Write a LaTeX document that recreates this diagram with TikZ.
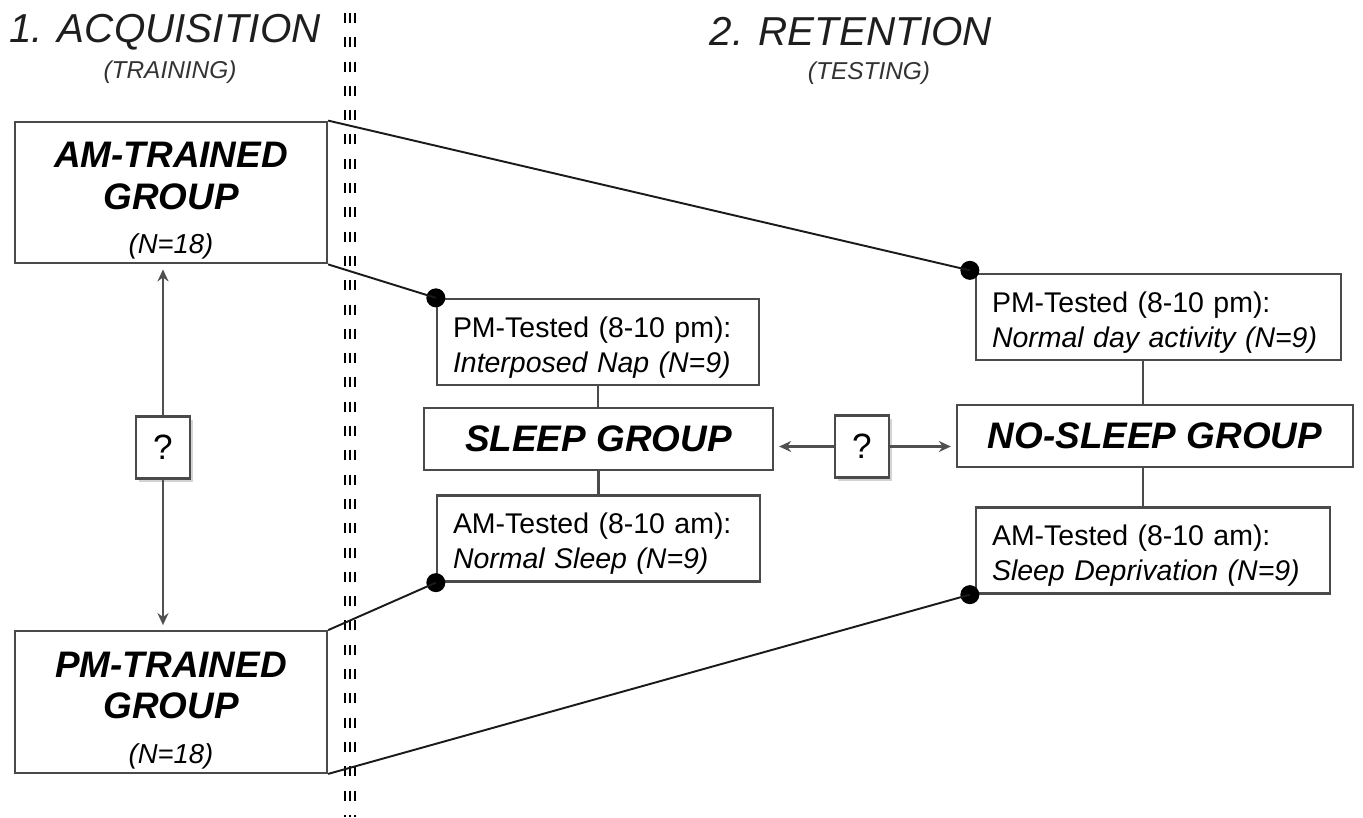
\documentclass[tikz,border=0pt]{standalone}
\usepackage{fontspec}
\setmainfont{Liberation Sans}
\usetikzlibrary{arrows.meta,positioning,shadows}

\definecolor{boxgray}{HTML}{4A4A4A}
\definecolor{arrgray}{HTML}{505050}
\definecolor{linkblack}{HTML}{1A1A1A}
\definecolor{titlegray}{HTML}{1E1E1E}
\definecolor{subgray}{HTML}{333333}

\begin{document}
\begin{tikzpicture}[
  >={Stealth[length=2.4mm,width=2.2mm]},
  title/.style={font=\fontsize{23}{27}\selectfont\itshape, text=titlegray},
  subtitle/.style={font=\fontsize{13.9}{16}\selectfont\itshape, text=subgray},
  trainbox/.style={draw=boxgray, line width=1.3pt, fill=white, align=center,
    minimum width=6.24cm, minimum height=2.83cm, inner sep=0pt,
    font=\fontsize{21}{23.8}\selectfont\bfseries\itshape},
  groupbox/.style={draw=boxgray, line width=1.3pt, fill=white, minimum height=1.24cm,
    font=\fontsize{21}{25}\selectfont\bfseries\itshape},
  testbox/.style={draw=boxgray, line width=1.3pt, fill=white, align=left,
    inner xsep=0.32cm, minimum height=1.72cm, font=\fontsize{16.2}{19.8}\selectfont},
  qbox/.style={draw=boxgray, line width=1.3pt, fill=white, minimum width=1.08cm,
    minimum height=1.24cm, inner sep=0pt, font=\fontsize{20}{24}\selectfont,
    drop shadow={shadow xshift=0.06cm, shadow yshift=-0.06cm, opacity=0.35}},
  dot/.style={circle, fill=black, inner sep=0pt, minimum size=0.38cm},
  link/.style={draw=linkblack, line width=1.1pt},
  stem/.style={draw=boxgray, line width=1.2pt},
  arr/.style={->, draw=arrgray, line width=1.4pt, shorten >=0.1cm},
  sep/.style={draw=black, line width=0.05cm, dash pattern=on 0.2cm off 0.286cm}
]
\useasboundingbox (0,0) rectangle (27.26,-16.34);

%--------------------------------------------------
% phase headings and separator
%--------------------------------------------------
\node[title] (acq) at (3.30,-0.64) {1. ACQUISITION};
\node[subtitle] (train) at (3.40,-1.44) {(TRAINING)};
\node[title] (ret) at (17.02,-0.64) {2. RETENTION};
\node[subtitle] (test) at (17.38,-1.46) {(TESTING)};

\foreach \x in {6.90,7.00,7.10}
  \draw[sep] (\x,-0.26) -- (\x,-16.34);

%--------------------------------------------------
% left: training groups
%--------------------------------------------------
\node[trainbox] (am) at (3.42,-3.85) {\rule{0pt}{24pt}AM-TRAINED\\GROUP\\[1.5pt]{\mdseries\fontsize{15.6}{18}\selectfont (N=18)}};
\node[trainbox] (pm) at (3.42,-14.04) {\rule{0pt}{24pt}PM-TRAINED\\GROUP\\[1.5pt]{\mdseries\fontsize{15.6}{18}\selectfont (N=18)}};

\node[qbox] (q1) at (3.26,-8.95) {?};
\draw[arr] (q1.north) -- (q1.north |- am.south);
\draw[arr] (q1.south) -- (q1.south |- pm.north);

%--------------------------------------------------
% middle: sleep group
%--------------------------------------------------
\node[testbox, text width=5.80cm] (pms) at (11.96,-6.84) {\rule{0pt}{18pt}PM-Tested (8-10 pm):\\\textit{Interposed Nap (N=9)}};
\node[groupbox, minimum width=6.98cm] (sleep) at (11.97,-8.78) {SLEEP GROUP};
\node[testbox, text width=5.82cm] (ams) at (11.97,-10.77) {\rule{0pt}{18pt}AM-Tested (8-10 am):\\\textit{Normal Sleep (N=9)}};

\draw[stem] (pms.south) -- (pms.south |- sleep.north);
\draw[stem] (ams.north) -- (ams.north |- sleep.south);

%--------------------------------------------------
% right: no-sleep group
%--------------------------------------------------
\node[testbox, text width=6.66cm] (pmr) at (23.17,-6.34) {\rule{0pt}{18pt}PM-Tested (8-10 pm):\\\textit{Normal day activity (N=9)}};
\node[groupbox, minimum width=7.92cm] (nosleep) at (23.10,-8.72) {NO-SLEEP GROUP};
\node[testbox, text width=6.44cm] (amr) at (23.06,-11.01) {\rule{0pt}{18pt}AM-Tested (8-10 am):\\\textit{Sleep Deprivation (N=9)}};

\coordinate (rstem) at (22.86,0);
\draw[stem] (pmr.south -| rstem) -- (nosleep.north -| rstem);
\draw[stem] (nosleep.south -| rstem) -- (amr.north -| rstem);

\node[qbox] (q2) at (17.24,-8.93) {?};
\draw[arr] (q2.west) -- (q2.west -| sleep.east);
\draw[arr] (q2.east) -- (q2.east -| nosleep.west);

%--------------------------------------------------
% links from training to testing
%--------------------------------------------------
\node[dot] (dpms) at (pms.north west) {};
\node[dot] (dams) at (ams.south west) {};
\node[dot] (dpmr) at ([xshift=-0.1cm,yshift=0.05cm]pmr.north west) {};
\node[dot] (damr) at ([xshift=-0.1cm]amr.south west) {};

\draw[link] (am.north east) -- (dpmr.center);
\draw[link] (am.south east) -- (dpms.center);
\draw[link] (pm.north east) -- (dams.center);
\draw[link] (pm.south east) -- (damr.center);

\end{tikzpicture}
\end{document}
